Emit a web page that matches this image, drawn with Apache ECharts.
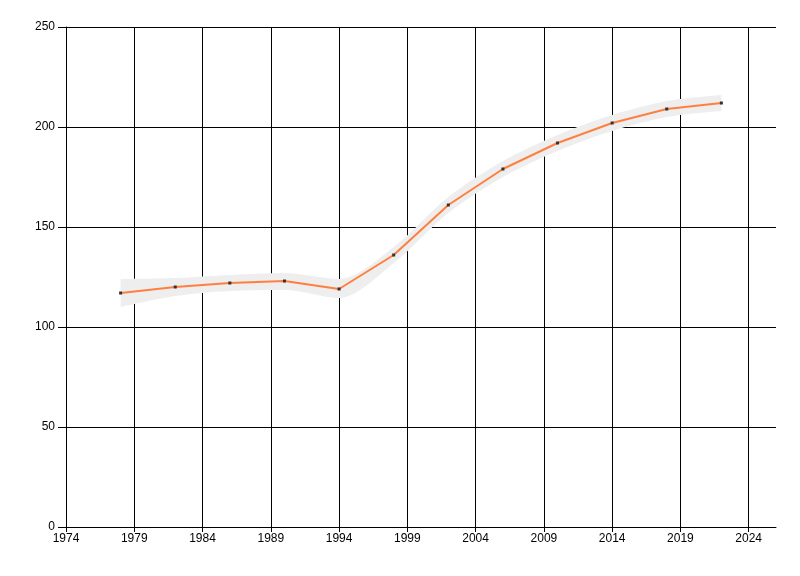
<!DOCTYPE html>
<html><head><meta charset="utf-8">
<script src="https://cdn.jsdelivr.net/npm/echarts@6/dist/echarts.min.js"></script>
<style>html,body{margin:0;padding:0;background:#fff}#c{width:800px;height:576px}</style>
</head><body><div id="c"></div>
<script>
const years = [1978, 1982, 1986, 1990, 1994, 1998, 2002, 2006, 2010, 2014, 2018, 2022];
const values = [117, 120, 122, 123, 119, 136, 161, 179, 192, 202, 209, 212];
const lower = [110, 115.5, 118, 118.5, 114.5, 132, 157, 175, 188, 198, 205, 208];
const upper = [124, 124.5, 126, 127, 124, 140, 165, 183, 196, 206, 213, 216];
const xTicks = [1974, 1979, 1984, 1989, 1994, 1999, 2004, 2009, 2014, 2019, 2024];
const yTicks = [0, 50, 100, 150, 200, 250];

const chart = echarts.init(document.getElementById('c'));
const font = 'Liberation Sans';
chart.setOption({
  animation: false,
  grid: {left: 66, right: 24, top: 27, bottom: 49, containLabel: false},
  xAxis: {
    type: 'value', min: 1974, max: 2026, interval: 5,
    axisLine: {show: true, lineStyle: {color: '#000', width: 1}},
    axisTick: {show: true, length: 5, lineStyle: {color: '#000'}, customValues: xTicks},
    axisLabel: {color: '#000', fontFamily: font, fontSize: 12, margin: 6, customValues: xTicks,
      formatter: v => String(v)},
    splitLine: {show: true, lineStyle: {color: '#000', width: 1}}
  },
  yAxis: {
    type: 'value', min: 0, max: 250, interval: 50,
    axisLine: {show: true, lineStyle: {color: '#000', width: 1}},
    axisTick: {show: true, length: 8, lineStyle: {color: '#000'}, customValues: yTicks},
    axisLabel: {color: '#000', fontFamily: font, fontSize: 12, margin: 11, customValues: yTicks},
    splitLine: {show: true, lineStyle: {color: '#000', width: 1}}
  },
  series: [
    {type: 'line', stack: 'band', data: years.map((y, i) => [lower[i], y]), encode: {x: 1, y: 0},
     symbol: 'none', smooth: 0.3, lineStyle: {opacity: 0}, silent: true, z: 2},
    {type: 'line', stack: 'band', data: years.map((y, i) => [upper[i] - lower[i], y]), encode: {x: 1, y: 0},
     symbol: 'none', smooth: 0.3, lineStyle: {opacity: 0}, areaStyle: {color: '#eeeeee', opacity: 1}, silent: true, z: 2},
    {type: 'line', data: years.map((y, i) => [y, values[i]]), smooth: false,
     symbol: 'rect', symbolSize: 3, itemStyle: {color: '#333'},
     lineStyle: {color: '#ff7f40', width: 2}, z: 3}
  ]
});
</script></body></html>
